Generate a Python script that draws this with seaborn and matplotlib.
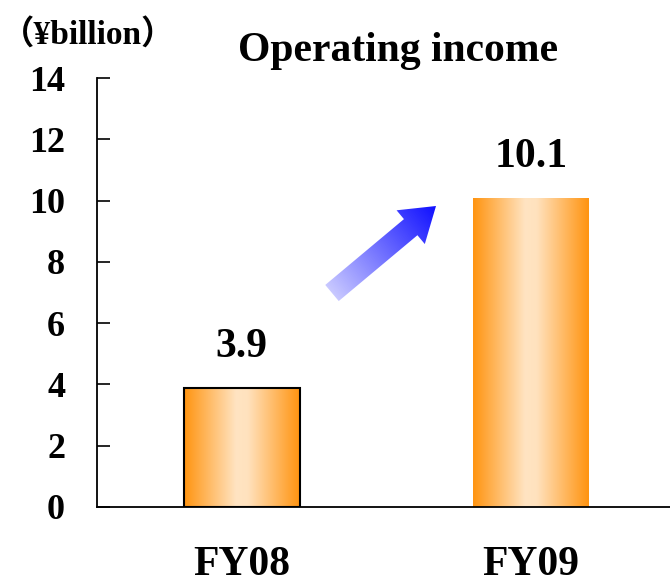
import numpy as np
import matplotlib
matplotlib.use('Agg')
import matplotlib.pyplot as plt
import matplotlib.patches as mpatches
from matplotlib.colors import LinearSegmentedColormap
import seaborn as sns

# Data
years = ['FY08', 'FY09']
income = [3.9, 10.1]
y_ticks = [0, 2, 4, 6, 8, 10, 12, 14]

sns.set_style('white')
plt.rcParams['font.family'] = ['Liberation Serif', 'Noto Sans CJK JP']
plt.rcParams['font.weight'] = 'bold'
for k in ['text.color', 'axes.labelcolor', 'xtick.color', 'ytick.color']:
    plt.rcParams[k] = 'black'

fig = plt.figure(figsize=(6.7, 5.83), dpi=100)
ax = fig.add_axes([0.1448, 0.1304, 0.8552, 0.7356])

sns.barplot(x=years, y=income, ax=ax, width=0.4, color='#FF9A1A', saturation=1)

# Orange gradient fill for bars
bar_cmap = LinearSegmentedColormap.from_list(
    'bar', [(0.0, '#FF9410'), (0.45, '#FFE4C2'), (0.55, '#FFE2BE'), (1.0, '#FF9410')])
grad = np.linspace(0, 1, 256).reshape(1, -1)
for i, p in enumerate(ax.patches):
    x0, y0 = p.get_x(), p.get_y()
    w, h = p.get_width(), p.get_height()
    im = ax.imshow(grad, cmap=bar_cmap, extent=[x0, x0 + w, y0, y0 + h],
                   aspect='auto', zorder=1, interpolation='bilinear')
    im.set_clip_path(p)
    p.set_facecolor('none')
    p.set_zorder(2)
    if i == 0:
        p.set_edgecolor('black')
        p.set_linewidth(1.5)
    else:
        p.set_edgecolor('none')

for i, v in enumerate(income):
    ax.annotate(f'{v}', (i, v), xytext=(0, 29), textcoords='offset points',
                ha='center', va='center', fontsize=30, fontweight='bold')

ax.set_xlim(-0.5, 1.48)
ax.set_ylim(0, 14)
ax.set_yticks(y_ticks)
ax.set_yticklabels([str(t) for t in y_ticks], fontsize=26, fontweight='bold')
ax.set_xticks(range(len(years)))
ax.set_xticklabels(years, fontsize=30, fontweight='bold')
ax.tick_params(axis='y', direction='in', length=9.5, width=1.2, pad=23, left=True)
ax.tick_params(axis='x', length=0, pad=28)
for s in ['top', 'right']:
    ax.spines[s].set_visible(False)
for s in ['left', 'bottom']:
    ax.spines[s].set_linewidth(1.3)
    ax.spines[s].set_color('black')
ax.set_xlabel('')
ax.set_ylabel('')

# Gradient arrow in pixel coordinates
ov = fig.add_axes([0, 0, 1, 1], zorder=5)
ov.set_xlim(0, 670)
ov.set_ylim(0, 583)
ov.axis('off')
ov.patch.set_alpha(0)
tail = np.array([332, 583 - 293])
tip = np.array([436, 583 - 206])
arrow = mpatches.FancyArrow(tail[0], tail[1], tip[0] - tail[0], tip[1] - tail[1],
                            width=21, head_width=44, head_length=33,
                            length_includes_head=True, edgecolor='none')
ov.add_patch(arrow)
arrow.set_facecolor('none')
xs = np.linspace(310, 460, 150)
ys = np.linspace(583 - 320, 583 - 180, 140)
X, Y = np.meshgrid(xs, ys)
d = tip - tail
t = ((X - tail[0]) * d[0] + (Y - tail[1]) * d[1]) / (d @ d)
arrow_cmap = LinearSegmentedColormap.from_list('arr', ['#C8C8FF', '#1010FF'])
im = ov.imshow(np.clip(t, 0, 1), cmap=arrow_cmap, origin='lower',
               extent=[xs[0], xs[-1], ys[0], ys[-1]], aspect='auto')
im.set_clip_path(arrow)

fig.text(0.594, 0.912, 'Operating income', ha='center', va='center',
         fontsize=30, fontweight='bold')
fig.text(0.131, 0.94, '（¥billion）', ha='center', va='center',
         fontsize=24, fontweight='bold')

fig.savefig('out.png', dpi=100)
